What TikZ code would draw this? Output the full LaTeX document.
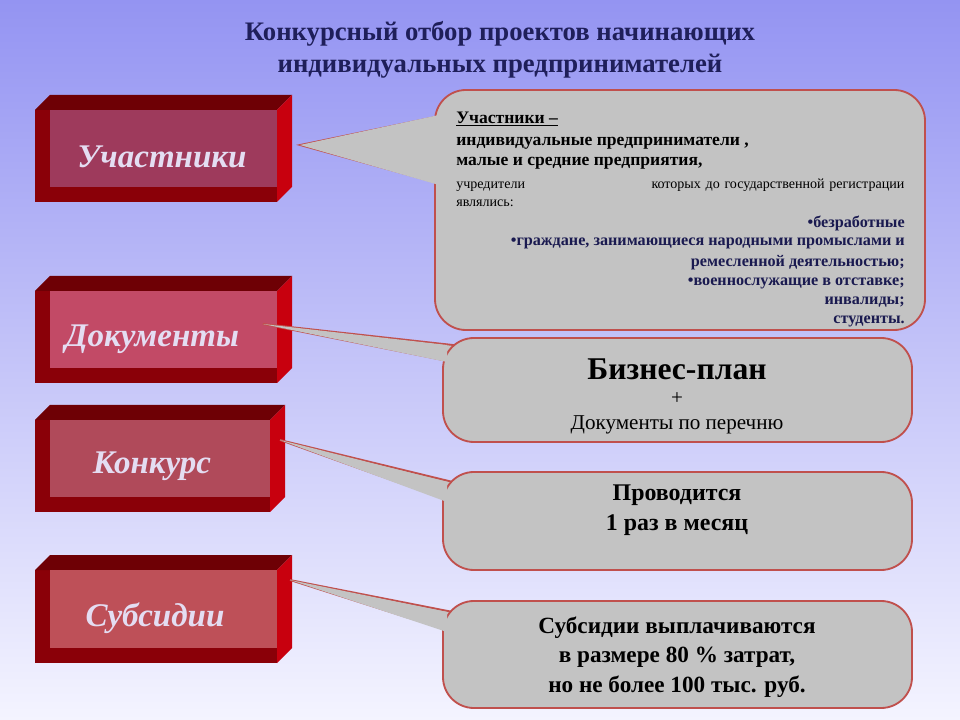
\documentclass[tikz,border=0pt]{standalone}
\usepackage{fontspec}
\setmainfont{Liberation Serif}
\usetikzlibrary{calc}
\definecolor{bgtop}{HTML}{9494F2}
\definecolor{bgbot}{HTML}{F4F4FF}
\definecolor{navy}{HTML}{1F1F5A}
\definecolor{fr}{HTML}{8A0008}
\definecolor{topf}{HTML}{6E0005}
\definecolor{sidef}{HTML}{C8000E}
\definecolor{lab}{HTML}{E4DDF2}
\definecolor{cbord}{HTML}{C0504D}
\definecolor{cfill}{HTML}{C3C3C3}
\definecolor{dtext}{HTML}{1A1A50}
\definecolor{BoxA}{HTML}{9E3A5C}
\definecolor{BoxB}{HTML}{C24A66}
\definecolor{BoxC}{HTML}{B04A5A}
\definecolor{BoxD}{HTML}{BE5058}
\tikzset{
  x=0.025cm,y=-0.025cm,
  boxlab/.style={font=\fontsize{23.5}{26}\selectfont\bfseries\itshape,text=lab},
  callbd/.style={draw=cbord,line width=1.3pt,fill=cfill},
  ctext/.style={font=\fontsize{17}{21}\selectfont\bfseries,text=black,align=center},
}
\newcommand{\mybox}[6]{% x1,y1,x2,y2,innercolor,name
  \fill[fr] (#1,#2+15) rectangle (#3-15,#4);
  \fill[topf] (#1,#2+15) -- (#1+15,#2) -- (#3,#2) -- (#3-15,#2+15) -- cycle;
  \fill[sidef] (#3-15,#2+15) -- (#3,#2) -- (#3,#4-15) -- (#3-15,#4) -- cycle;
  \fill[#5] (#1+15,#2+15) rectangle (#3-15,#4-15);
  \coordinate (#6) at ($(#1,#2)!0.5!(#3,#4)$);
}
\newcommand{\callout}[9]{% x1,y1,x2,y2,tipx,tipy,basey1,basey2,name
  \draw[callbd] (#5,#6) -- (#1+10,#7) -- (#1+10,#8) -- cycle;
  \draw[callbd,rounded corners=22] (#1,#2) rectangle (#3,#4);
  \fill[cfill] (#5,#6) -- (#1+4,#7) -- (#1+4,#8) -- cycle;
  \coordinate (#9) at ($(#1,#2)!0.5!(#3,#4)$);
}
\begin{document}
\begin{tikzpicture}
\shade[top color=bgtop,bottom color=bgbot] (0,0) rectangle (960,720);
\useasboundingbox (0,0) rectangle (960,720);
\node[font=\fontsize{19}{23}\selectfont\bfseries,text=navy,align=center] (title) at (500,50) {Конкурсный отбор проектов начинающих\\индивидуальных предпринимателей};

\mybox{35}{95}{292}{202}{BoxA}{b1}
\mybox{35}{276}{292}{383}{BoxB}{b2}
\mybox{35}{405}{285}{512}{BoxC}{b3}
\mybox{35}{555}{292}{663}{BoxD}{b4}
\node[boxlab] (l1) at (162,157) {Участники};
\node[boxlab] (l2) at (152,339) {Документы};
\node[boxlab] (l3) at (152,466) {Конкурс};
\node[boxlab] (l4) at (155,618) {Субсидии};

\callout{435}{90}{925}{330}{300}{145}{115}{185}{c1}
\callout{443}{338}{912}{442}{263}{324}{345}{362}{c2}
\callout{443}{472}{912}{570}{280}{440}{482}{502}{c3}
\callout{443}{601}{912}{708}{290}{580}{612}{632}{c4}

\begin{scope}[every node/.style={inner sep=0pt}]
\node[anchor=west,font=\fontsize{12.5}{14}\selectfont\bfseries] (a1) at (456,119) {\underline{Участники –}};
\node[anchor=west,font=\fontsize{12.5}{14}\selectfont\bfseries] (a2) at (456,143) {индивидуальные предприниматели ,};
\node[anchor=west,font=\fontsize{12.5}{14}\selectfont\bfseries] (a3) at (456,163) {малые и средние предприятия,};
\node[anchor=west,font=\fontsize{10}{13}\selectfont,text width=11.2cm,align=left] (a4) at (456,193) {учредители\hfill которых до государственной регистрации\\ являлись:};
\begin{scope}[every node/.style={inner sep=0pt,anchor=east,font=\fontsize{11.5}{13}\selectfont\bfseries,text=dtext}]
\node (r1) at (905,223) {•безработные};
\node (r2) at (905,243) {•граждане, занимающиеся народными промыслами и};
\node (r3) at (905,263) {ремесленной деятельностью;};
\node (r4) at (905,283) {•военнослужащие в отставке;};
\node (r5) at (905,302) {инвалиды;};
\node (r6) at (905,321) {студенты.};
\end{scope}
\end{scope}

\node[font=\fontsize{22.5}{25}\selectfont\bfseries] (t2a) at (677,369) {Бизнес-план};
\node[font=\fontsize{15}{17}\selectfont] (t2b) at (677,399) {+};
\node[font=\fontsize{15}{17}\selectfont] (t2c) at (677,425) {Документы по перечню};
\node[ctext] (t3) at (677,510) {Проводится\\1 раз в месяц};
\node[ctext,font=\fontsize{16.5}{21}\selectfont\bfseries] (t4) at (677,657) {Субсидии выплачиваются\\в размере 80 \% затрат,\\но не более 100 тыс. руб.};
\end{tikzpicture}
\end{document}
